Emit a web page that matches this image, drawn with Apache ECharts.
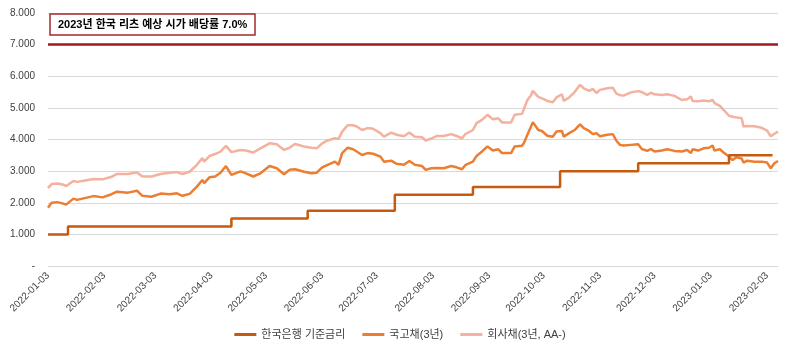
<!DOCTYPE html>
<html>
<head>
<meta charset="utf-8">
<script src="https://cdn.jsdelivr.net/npm/echarts@6/dist/echarts.min.js"></script>
<style>
  html, body { margin: 0; padding: 0; background: #fff; }
  #chart { width: 800px; height: 353px; }
</style>
</head>
<body>
<div id="chart"></div>
<script>
// 기준금리 (step)
var rateDates = ['2022-01-03', '2022-01-14', '2022-04-14', '2022-05-26', '2022-07-13',
  '2022-08-25', '2022-10-12', '2022-11-24', '2023-01-13', '2023-02-06'];
var baseRate = [1.00, 1.25, 1.50, 1.75, 2.25, 2.50, 3.00, 3.25, 3.50, 3.50];

// 국고채(3년), 회사채(3년, AA-)
var bondDates = [
  '2022-01-03', '2022-01-05', '2022-01-08', '2022-01-11', '2022-01-13', '2022-01-17', '2022-01-19',
  '2022-01-25', '2022-01-28', '2022-02-02', '2022-02-07', '2022-02-10', '2022-02-16', '2022-02-21',
  '2022-02-24', '2022-03-01', '2022-03-06', '2022-03-11', '2022-03-15', '2022-03-18', '2022-03-22',
  '2022-03-26', '2022-03-29', '2022-03-30', '2022-04-02', '2022-04-05', '2022-04-08', '2022-04-11',
  '2022-04-14', '2022-04-19', '2022-04-22', '2022-04-26', '2022-04-30', '2022-05-05', '2022-05-09',
  '2022-05-13', '2022-05-16', '2022-05-19', '2022-05-24', '2022-05-28', '2022-05-31', '2022-06-03',
  '2022-06-06', '2022-06-10', '2022-06-12', '2022-06-14', '2022-06-17', '2022-06-20', '2022-06-22',
  '2022-06-25', '2022-06-28', '2022-07-01', '2022-07-05', '2022-07-07', '2022-07-11', '2022-07-14',
  '2022-07-18', '2022-07-21', '2022-07-24', '2022-07-28', '2022-07-30', '2022-08-02', '2022-08-05',
  '2022-08-09', '2022-08-13', '2022-08-16', '2022-08-19', '2022-08-21', '2022-08-25', '2022-08-27',
  '2022-08-30', '2022-09-02', '2022-09-05', '2022-09-08', '2022-09-10', '2022-09-15', '2022-09-17',
  '2022-09-21', '2022-09-22', '2022-09-24', '2022-09-26', '2022-09-27', '2022-09-30', '2022-10-02',
  '2022-10-05', '2022-10-08', '2022-10-10', '2022-10-13', '2022-10-14', '2022-10-17', '2022-10-20',
  '2022-10-23', '2022-10-25', '2022-10-28', '2022-10-30', '2022-11-01', '2022-11-03', '2022-11-07',
  '2022-11-10', '2022-11-12', '2022-11-14', '2022-11-16', '2022-11-20', '2022-11-24', '2022-11-26',
  '2022-11-29', '2022-12-01', '2022-12-03', '2022-12-07', '2022-12-10', '2022-12-14', '2022-12-18',
  '2022-12-21', '2022-12-23', '2022-12-24', '2022-12-27', '2022-12-30', '2023-01-02', '2023-01-04',
  '2023-01-05', '2023-01-08', '2023-01-10', '2023-01-13', '2023-01-15', '2023-01-17', '2023-01-20',
  '2023-01-21', '2023-01-23', '2023-01-27', '2023-01-31', '2023-02-03', '2023-02-05', '2023-02-07',
  '2023-02-09'
];
var ktb3y = [
  1.84, 2.00, 2.02, 1.98, 1.94, 2.13, 2.09,
  2.17, 2.21, 2.17, 2.27, 2.35, 2.32, 2.38,
  2.22, 2.19, 2.29, 2.27, 2.30, 2.22, 2.28,
  2.51, 2.72, 2.62, 2.81, 2.83, 2.95, 3.16,
  2.88, 2.99, 2.93, 2.83, 2.93, 3.16, 3.09,
  2.90, 3.04, 3.06, 2.98, 2.93, 2.95, 3.12,
  3.20, 3.30, 3.20, 3.57, 3.74, 3.69, 3.62,
  3.51, 3.57, 3.55, 3.46, 3.30, 3.33, 3.23,
  3.20, 3.32, 3.20, 3.16, 3.04, 3.09, 3.10,
  3.09, 3.16, 3.12, 3.06, 3.20, 3.30, 3.48,
  3.62, 3.78, 3.65, 3.69, 3.57, 3.57, 3.78,
  3.80, 3.88, 4.15, 4.41, 4.55, 4.30, 4.27,
  4.12, 4.09, 4.25, 4.27, 4.09, 4.20, 4.30,
  4.48, 4.36, 4.27, 4.17, 4.20, 4.10, 4.15,
  4.17, 3.96, 3.83, 3.81, 3.83, 3.85, 3.70,
  3.64, 3.70, 3.62, 3.65, 3.69, 3.64, 3.62,
  3.67, 3.57, 3.69, 3.65, 3.72, 3.74, 3.81,
  3.65, 3.69, 3.59, 3.46, 3.35, 3.44, 3.40,
  3.27, 3.33, 3.30, 3.30, 3.27, 3.09, 3.25,
  3.32
];
var corp3y = [
  2.46, 2.59, 2.61, 2.58, 2.53, 2.69, 2.66,
  2.72, 2.75, 2.74, 2.82, 2.91, 2.91, 2.96,
  2.83, 2.83, 2.91, 2.95, 2.97, 2.91, 2.98,
  3.20, 3.41, 3.30, 3.48, 3.54, 3.62, 3.80,
  3.60, 3.67, 3.65, 3.59, 3.72, 3.88, 3.85,
  3.67, 3.74, 3.86, 3.78, 3.74, 3.72, 3.88,
  3.97, 4.04, 4.02, 4.25, 4.45, 4.45, 4.41,
  4.30, 4.36, 4.34, 4.20, 4.09, 4.22, 4.15,
  4.10, 4.22, 4.09, 4.07, 3.97, 4.03, 4.11,
  4.11, 4.17, 4.11, 4.04, 4.18, 4.30, 4.52,
  4.62, 4.78, 4.64, 4.67, 4.54, 4.54, 4.78,
  4.81, 4.95, 5.25, 5.40, 5.54, 5.35, 5.30,
  5.22, 5.18, 5.33, 5.43, 5.22, 5.33, 5.50,
  5.73, 5.62, 5.54, 5.60, 5.47, 5.57, 5.62,
  5.64, 5.45, 5.40, 5.39, 5.49, 5.53, 5.50,
  5.41, 5.48, 5.43, 5.41, 5.43, 5.38, 5.25,
  5.27, 5.36, 5.22, 5.21, 5.23, 5.21, 5.25,
  5.15, 5.06, 4.94, 4.75, 4.72, 4.70, 4.67,
  4.41, 4.43, 4.42, 4.37, 4.28, 4.10, 4.18,
  4.25
];

var reitYield = 7.0;
var xTickLabels = ['2022-01-03', '2022-02-03', '2022-03-03', '2022-04-03', '2022-05-03', '2022-06-03',
  '2022-07-03', '2022-08-03', '2022-09-03', '2022-10-03', '2022-11-03', '2022-12-03',
  '2023-01-03', '2023-02-03'];
var seriesNames = ['한국은행 기준금리', '국고채(3년)', '회사채(3년, AA-)'];
var firstDay = '2022-01-03', lastDay = '2023-02-09';

function pad(n) { return n < 10 ? '0' + n : '' + n; }
function fmt(d) {
  return d.getUTCFullYear() + '-' + pad(d.getUTCMonth() + 1) + '-' + pad(d.getUTCDate());
}
// calendar-day categories for the axis (Excel date axis)
var days = [];
for (var t = Date.parse(firstDay + 'T00:00:00Z'); t <= Date.parse(lastDay + 'T00:00:00Z'); t += 86400000) {
  days.push(fmt(new Date(t)));
}
function pair(dates, vals) {
  return dates.map(function (d, i) { return [d, vals[i]]; });
}

var FONT = "'Liberation Sans', 'Noto Sans CJK KR', sans-serif";
var chart = echarts.init(document.getElementById('chart'));

chart.setOption({
  animation: false,
  color: ['#C55A11', '#ED7D31', '#F3B19E'],
  textStyle: { fontFamily: FONT },
  title: {
    text: '2023년 한국 리츠 예상 시가 배당률 7.0%',
    left: 50,
    top: 14,
    padding: [5, 8, 5, 8],
    borderColor: '#A3282B',
    borderWidth: 1.5,
    backgroundColor: '#fff',
    textStyle: { fontSize: 11, fontWeight: 'bold', color: '#000', fontFamily: FONT }
  },
  grid: { left: 48, right: 22, top: 13, bottom: 87 },
  legend: {
    bottom: 8,
    left: 'center',
    icon: 'rect',
    itemWidth: 22,
    itemHeight: 3,
    itemGap: 17,
    textStyle: { fontSize: 11, color: '#404040', fontFamily: FONT },
    data: seriesNames
  },
  xAxis: {
    type: 'category',
    data: days,
    boundaryGap: false,
    axisLine: { lineStyle: { color: '#D9D9D9' } },
    axisTick: { show: false },
    splitLine: { show: false },
    axisLabel: {
      interval: function (idx, val) { return xTickLabels.indexOf(val) >= 0; },
      rotate: 45,
      margin: 8,
      fontSize: 10,
      color: '#404040'
    }
  },
  yAxis: {
    type: 'value',
    min: 0,
    max: 8,
    interval: 1,
    axisLine: { show: false },
    axisTick: { show: false },
    splitLine: { lineStyle: { color: '#D9D9D9' } },
    axisLabel: {
      margin: 13,
      fontSize: 10,
      color: '#404040',
      formatter: function (v) { return v === 0 ? '-' : v.toFixed(3); }
    }
  },
  series: [
    {
      name: seriesNames[0],
      type: 'line',
      step: 'end',
      symbol: 'none',
      lineStyle: { width: 2.5 },
      data: pair(rateDates, baseRate),
      z: 3,
      markLine: {
        silent: true,
        symbol: 'none',
        label: { show: false },
        lineStyle: { color: '#A0191E', width: 2.5, type: 'solid' },
        data: [{ yAxis: reitYield }]
      }
    },
    {
      name: seriesNames[1],
      type: 'line',
      symbol: 'none',
      lineStyle: { width: 2.5 },
      data: pair(bondDates, ktb3y),
      z: 2
    },
    {
      name: seriesNames[2],
      type: 'line',
      symbol: 'none',
      lineStyle: { width: 2.5 },
      data: pair(bondDates, corp3y),
      z: 1
    }
  ]
});
</script>
</body>
</html>
